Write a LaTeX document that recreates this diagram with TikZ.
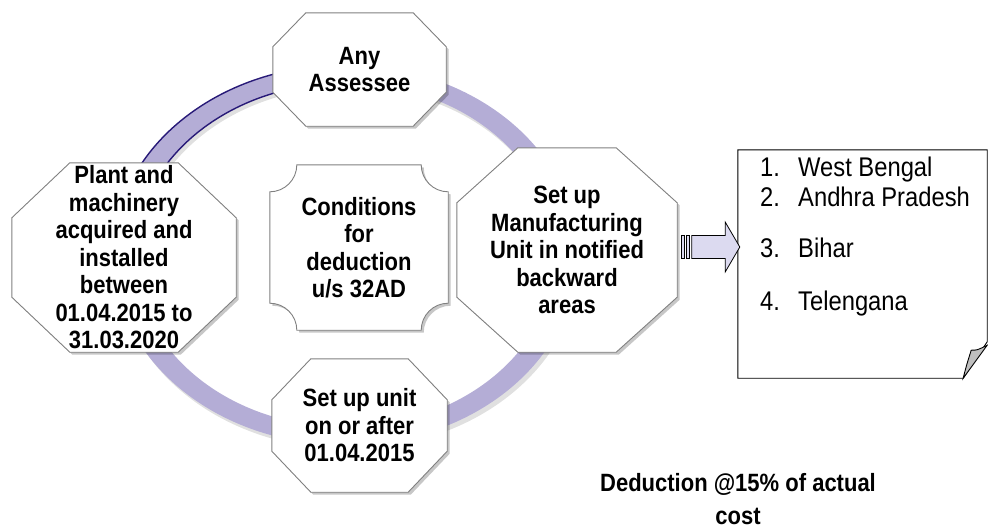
\documentclass[tikz,border=0pt]{standalone}
\usepackage{fontspec}
\setmainfont{Liberation Sans}[FakeStretch=0.88]
\usetikzlibrary{calc,shadows}
\pgfdeclarelayer{bg}
\pgfsetlayers{bg,main}
\definecolor{ringc}{RGB}{180,173,214}
\definecolor{ringd}{RGB}{40,26,120}
\definecolor{arrc}{RGB}{220,218,240}
\definecolor{octd}{RGB}{128,128,128}
\newcommand\octpath[3]{%
  \path[octo] ($(#1.north west)+(#2,0)$) -- ($(#1.north east)+(-#2,0)$) -- ($(#1.north east)+(0,#3)$) -- ($(#1.south east)+(0,-#3)$) -- ($(#1.south east)+(-#2,0)$) -- ($(#1.south west)+(#2,0)$) -- ($(#1.south west)+(0,-#3)$) -- ($(#1.north west)+(0,#3)$) -- cycle;}
\begin{document}
\begin{tikzpicture}[x=1pt,y=-1pt,
  lbl/.style={inner sep=0pt, align=center, font=\fontsize{25}{27.5}\selectfont\bfseries},
  octo/.style={draw=octd, fill=white, line width=0.9pt, drop shadow={shadow xshift=2.5pt, shadow yshift=-2.5pt, opacity=0.22, fill=black}},
  item/.style={anchor=base west, inner sep=0pt, font=\fontsize{27}{30}\selectfont},
  arrw/.style={fill=arrc, draw=black, line width=0.8pt}]
\useasboundingbox (0,0) rectangle (988,528);

\node[lbl, minimum width=173pt, minimum height=113pt] (A) at (359.5,69.5) {Any\\Assessee};
\node[lbl, minimum width=224pt, minimum height=189pt] (P) at (124,257.5) {Plant and\\machinery\\acquired and\\installed\\between\\01.04.2015 to\\31.03.2020};
\node[lbl, minimum width=220pt, minimum height=204pt] (M) at (567,250) {Set up\\Manufacturing\\Unit in notified\\backward\\areas};
\node[lbl, minimum width=175pt, minimum height=133pt] (U) at (359.5,425.5) {Set up unit\\on or after\\01.04.2015};
\node[lbl, minimum width=178pt, minimum height=165pt] (C) at (359,247.5) {Conditions\\for\\deduction\\u/s 32AD};

\begin{pgfonlayer}{bg}
  \fill[black, opacity=0.12, even odd rule] (348,259) ellipse[x radius=232, y radius=190] (348,259) ellipse[x radius=210, y radius=172];
  \fill[ringc, even odd rule] (345,255) ellipse[x radius=232, y radius=190] (345,255) ellipse[x radius=210, y radius=172];
  \draw[ringd, line width=1.4pt] (345,255) ++(180:232 and 190) arc[start angle=180, end angle=270, x radius=232, y radius=190];
  \draw[ringd, line width=1.4pt] (345,255) ++(180:210 and 172) arc[start angle=180, end angle=270, x radius=210, y radius=172];
  \octpath{A}{33}{34}
  \octpath{P}{58}{55}
  \octpath{M}{61}{55}
  \octpath{U}{39}{41}
  \path[octo] ($(C.north west)+(0,27)$) arc[start angle=90, end angle=0, radius=27] -- ($(C.north east)+(-27,0)$) arc[start angle=180, end angle=90, radius=27] -- ($(C.south east)+(0,-27)$) arc[start angle=270, end angle=180, radius=27] -- ($(C.south west)+(27,0)$) arc[start angle=360, end angle=270, radius=27] -- cycle;
\end{pgfonlayer}

% list box with folded corner
\node[minimum width=249pt, minimum height=228pt, inner sep=0pt] (L) at (862.5,264) {};
\draw[line width=0.9pt, fill=white] (L.north west) -- (L.north east) -- ($(L.north east)+(0,192)$) -- ($(L.south east)+(-24,0)$) -- (L.south west) -- cycle;
\draw[line width=0.9pt, fill=black!25] ($(L.south east)+(-24,0)$) .. controls ($(L.south east)+(-21,-12)$) .. ($(L.south east)+(-16,-28)$) .. controls ($(L.south east)+(-10,-28)$) .. ($(L.south east)+(0,-33)$) -- cycle;

\node[item] (n1) at (760,176) {1.};
\node[item] (t1) at (798,176) {West Bengal};
\node[item] (n2) at (760,206) {2.};
\node[item] (t2) at (798,206) {Andhra Pradesh};
\node[item] (n3) at (760,257) {3.};
\node[item] (t3) at (798,257) {Bihar};
\node[item] (n4) at (760,310) {4.};
\node[item] (t4) at (798,310) {Telengana};

% striped arrow from M to L
\coordinate (a0) at ($(M.east)+(4,-3)$);
\coordinate (tip) at ($(L.west|-a0)+(2,0)$);
\draw[arrw] ($(a0)+(0,-11.5)$) rectangle ($(a0)+(3,11.5)$);
\draw[arrw] ($(a0)+(5,-11.5)$) rectangle ($(a0)+(8.5,11.5)$);
\draw[arrw] ($(a0)+(10.5,-11.5)$) -- ($(a0)+(44,-11.5)$) -- ($(a0)+(44,-25)$) -- (tip) -- ($(a0)+(44,25)$) -- ($(a0)+(44,11.5)$) -- ($(a0)+(10.5,11.5)$) -- cycle;

\node[lbl, font=\fontsize{25}{33}\selectfont\bfseries] (D) at (738,499) {Deduction @15\% of actual\\cost};
\end{tikzpicture}
\end{document}
